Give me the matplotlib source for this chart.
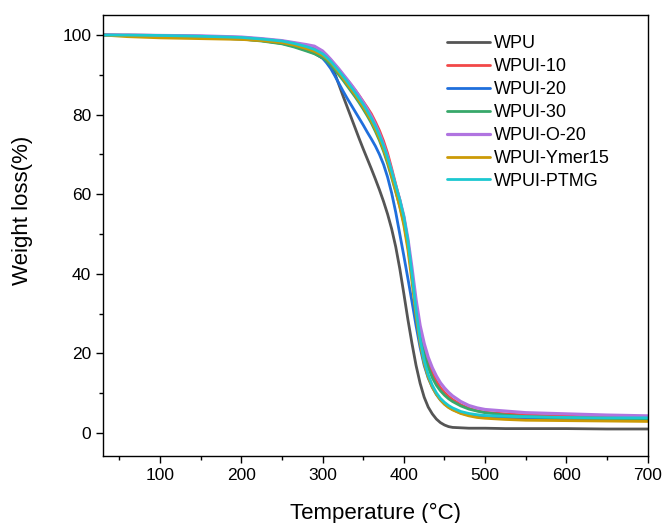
import matplotlib

matplotlib.use("Agg")
import matplotlib.pyplot as plt  # noqa: E402
from matplotlib.ticker import MultipleLocator  # noqa: E402

# temperature grid (°C) shared by all TGA curves
temp = [30, 60, 100, 150, 200, 225, 250, 265, 280, 290,
        300, 305, 310, 315, 320, 325, 330, 335, 340, 345,
        350, 355, 360, 365, 370, 375, 380, 385, 390, 395,
        400, 405, 410, 415, 420, 425, 430, 435, 440, 445,
        450, 455, 460, 470, 480, 490, 500, 525, 550, 600,
        650, 700]

wpu = [100, 99.9, 99.7, 99.4, 99.0, 98.6, 97.9, 97.2, 96.2, 95.4,
       94.2, 93.4, 92.4, 90.4, 87.6, 84.8, 82.1, 79.4, 76.7, 74.0,
       71.4, 68.9, 66.4, 63.8, 61.1, 58.2, 55.0, 51.3, 46.8, 41.3,
       35.0, 28.5, 22.5, 17.0, 12.5, 9.0, 6.5, 4.8, 3.5, 2.6,
       2.0, 1.6, 1.4, 1.3, 1.2, 1.2, 1.2, 1.1, 1.1, 1.1,
       1.0, 1.0]
wpui_10 = [100, 100, 99.9, 99.7, 99.4, 99.0, 98.5, 98.0, 97.4, 96.9,
           95.8, 94.8, 93.7, 92.5, 91.3, 90.0, 88.8, 87.5, 86.2, 84.8,
           83.3, 81.8, 80.2, 78.2, 76.0, 73.4, 70.3, 66.5, 62.5, 58.6,
           54.2, 48.0, 40.0, 32.0, 25.5, 21.0, 17.6, 15.0, 13.0, 11.4,
           10.2, 9.2, 8.4, 7.1, 6.2, 5.6, 5.2, 4.8, 4.5, 4.2,
           4.0, 3.9]
wpui_20 = [100, 99.9, 99.8, 99.6, 99.2, 98.9, 98.3, 97.6, 96.6, 95.6,
           94.2, 93.0, 91.6, 89.8, 87.9, 86.0, 84.2, 82.5, 80.8, 79.1,
           77.4, 75.6, 73.9, 72.1, 70.0, 67.5, 64.3, 60.3, 55.5, 50.0,
           44.5, 38.8, 33.0, 27.0, 21.5, 17.0, 13.8, 11.5, 9.7, 8.3,
           7.3, 6.5, 5.9, 5.0, 4.5, 4.2, 4.0, 3.7, 3.5, 3.4,
           3.3, 3.2]
wpui_30 = [100, 99.9, 99.7, 99.4, 99.0, 98.5, 97.8, 97.0, 96.0, 95.3,
           94.3, 93.5, 92.5, 91.3, 90.0, 88.7, 87.3, 85.9, 84.5, 83.0,
           81.4, 79.7, 77.9, 75.8, 73.5, 70.8, 67.7, 64.2, 60.6, 57.0,
           52.8, 47.0, 39.5, 31.5, 24.8, 20.0, 16.5, 13.9, 12.0, 10.6,
           9.5, 8.6, 7.9, 6.8, 6.0, 5.5, 5.1, 4.5, 4.1, 3.8,
           3.6, 3.5]
wpui_o20 = [100, 100, 99.9, 99.8, 99.5, 99.1, 98.6, 98.1, 97.6, 97.2,
            96.0, 95.0, 93.9, 92.7, 91.5, 90.2, 88.9, 87.6, 86.2, 84.7,
            83.1, 81.4, 79.6, 77.5, 75.2, 72.5, 69.4, 65.8, 62.0, 58.6,
            54.5, 48.8, 41.5, 33.5, 27.0, 22.5, 19.0, 16.4, 14.3, 12.6,
            11.3, 10.2, 9.3, 7.9, 6.9, 6.3, 5.9, 5.5, 5.1, 4.8,
            4.5, 4.3]
wpui_ymer15 = [100, 99.6, 99.3, 99.1, 98.9, 98.6, 98.1, 97.5, 96.6, 95.9,
               94.9, 94.1, 93.1, 91.9, 90.6, 89.2, 87.8, 86.4, 85.0, 83.5,
               81.9, 80.2, 78.4, 76.3, 74.0, 71.3, 68.2, 64.6, 60.8, 56.8,
               52.2, 46.0, 38.0, 29.5, 22.5, 17.5, 14.0, 11.5, 9.7, 8.3,
               7.2, 6.4, 5.8, 4.9, 4.3, 3.9, 3.7, 3.4, 3.2, 3.1,
               3.0, 2.9]
wpui_ptmg = [100, 100, 99.9, 99.7, 99.4, 99.0, 98.5, 97.9, 97.1, 96.4,
             95.3, 94.4, 93.4, 92.2, 91.0, 89.7, 88.4, 87.0, 85.6, 84.1,
             82.6, 80.9, 79.1, 77.1, 74.8, 72.2, 69.2, 65.8, 62.2, 58.6,
             54.3, 48.3, 40.0, 31.0, 23.5, 18.2, 14.6, 12.0, 10.1, 8.7,
             7.7, 6.9, 6.3, 5.4, 4.9, 4.6, 4.4, 4.2, 4.1, 3.9,
             3.8, 3.8]

labels = ["WPU", "WPUI-10", "WPUI-20", "WPUI-30", "WPUI-O-20",
          "WPUI-Ymer15", "WPUI-PTMG"]
series = [wpu, wpui_10, wpui_20, wpui_30, wpui_o20, wpui_ymer15, wpui_ptmg]
colors = ["#555555", "#f24848", "#1f6fdc", "#38a86a", "#b074e0",
          "#cc9a06", "#1cc8d0"]
widths = [2.0, 2.0, 2.0, 2.0, 2.3, 2.0, 2.0]

plt.rcParams.update({
    "font.family": ["Liberation Sans", "DejaVu Sans"],
    "axes.linewidth": 1.0,
    "xtick.direction": "out", "ytick.direction": "out",
})

fig = plt.figure(figsize=(6.65, 5.23), dpi=100)
ax = fig.add_axes([0.155, 0.128, 0.819, 0.843])

for y, lab, c, lw in zip(series, labels, colors, widths):
    ax.plot(temp, y, color=c, lw=lw, label=lab,
            solid_capstyle="round", solid_joinstyle="round")

ax.set_xlim(30, 700)
ax.set_ylim(-5.8, 105)
ax.xaxis.set_major_locator(MultipleLocator(100))
ax.xaxis.set_minor_locator(MultipleLocator(50))
ax.yaxis.set_major_locator(MultipleLocator(20))
ax.yaxis.set_minor_locator(MultipleLocator(10))
ax.tick_params(which="major", length=5, width=1.0, labelsize=12.5)
ax.tick_params(which="minor", length=3, width=1.0)

ax.set_xlabel("Temperature (°C)", fontsize=16)
ax.set_ylabel("Weight loss(%)", fontsize=16)
ax.xaxis.set_label_coords(0.5, -0.106)
ax.yaxis.set_label_coords(-0.128, 0.558)

ax.legend(loc="upper left", bbox_to_anchor=(0.672, 0.933),
          bbox_transform=fig.transFigure, frameon=False, fontsize=13,
          handlelength=2.38, handletextpad=0.22, labelspacing=0.33,
          borderpad=0, borderaxespad=0)

fig.savefig("out.png", dpi=100)
